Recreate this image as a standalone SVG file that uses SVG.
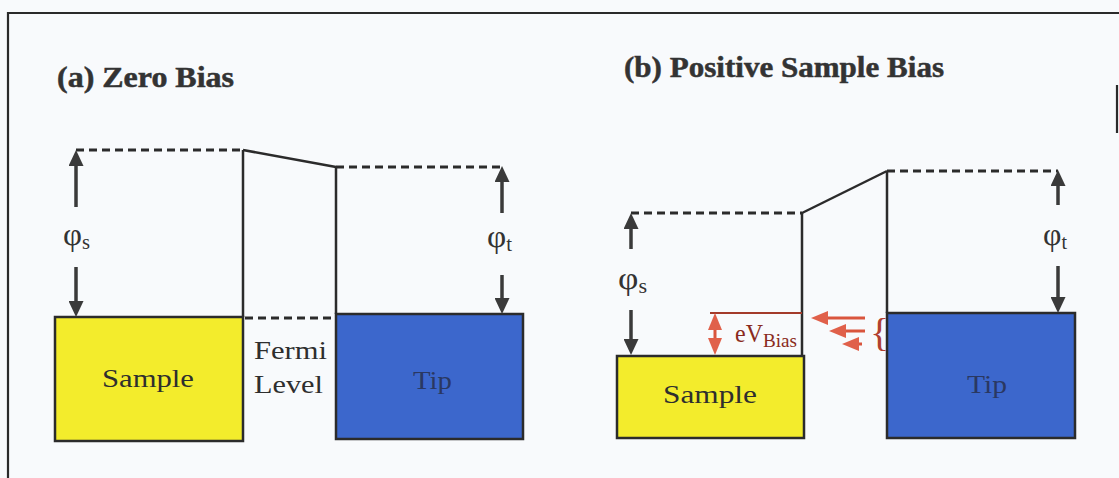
<svg xmlns="http://www.w3.org/2000/svg" width="1119" height="478" viewBox="0 0 1119 478">
<style>
.bg{fill:#f8fafc}
.frame{stroke:#2a2a2a;stroke-width:2.2;fill:none}
.wall{stroke:#2b2b2b;stroke-width:2.5;fill:none}
.dash{stroke:#2b2b2b;stroke-width:3;fill:none;stroke-dasharray:8 5}
.arr{stroke:#3a3a3a;stroke-width:3.5;fill:none}
.rarr{stroke:#d9553d;stroke-width:3;fill:none}
.rline{stroke:#a33a2a;stroke-width:2;fill:none}
.sample{fill:#f3ec2c;stroke:#2b2b2b;stroke-width:2.5}
.tip{fill:#3c67cc;stroke:#2b2b2b;stroke-width:2.5}
.serif{font-family:"Liberation Serif","Times New Roman",serif}
.title{font-weight:bold;font-size:29px;fill:#333;stroke:#333;stroke-width:0.5}
.lbl{font-size:25px;fill:#2e2e2e}
.tiplbl{font-size:25px;fill:#2a3862}
.phi{font-size:32px;fill:#333}
.sub{font-size:20px}
.red{font-size:26px;fill:#8a2a20}
.redsub{font-size:19px;fill:#8a2a20}
.brace{font-size:40px;fill:#b04030}
</style>
<defs>
<marker id="ah" markerUnits="userSpaceOnUse" markerWidth="16" markerHeight="15" refX="0" refY="7.5" orient="auto">
<path d="M0,0 L16,7.5 L0,15 z" fill="#3a3a3a"/>
</marker>
<marker id="rh" markerUnits="userSpaceOnUse" markerWidth="17" markerHeight="14" refX="0" refY="7" orient="auto">
<path d="M0,0 L17,7 L0,14 z" fill="#e0604a"/>
</marker>
</defs>
<rect class="bg" x="0" y="0" width="1119" height="478"/>
<g id="frame">
<path class="frame" d="M8,478 V13 H1119"/>
<path class="frame" d="M1117,85 V133"/>
</g>
<g id="panel-a">
<text class="serif title" x="57" y="87" textLength="177" lengthAdjust="spacingAndGlyphs">(a) Zero Bias</text>
<g id="sample-a">
<rect class="sample" x="55" y="317" width="188" height="124"/>
<text class="serif lbl" x="102" y="387" textLength="92" lengthAdjust="spacingAndGlyphs">Sample</text>
</g>
<g id="tip-a">
<rect class="tip" x="336" y="314" width="187" height="125"/>
<text class="serif tiplbl" x="413" y="389" textLength="39" lengthAdjust="spacingAndGlyphs">Tip</text>
</g>
<g id="fermi-label">
<text class="serif lbl" x="254" y="359" textLength="73" lengthAdjust="spacingAndGlyphs">Fermi</text>
<text class="serif lbl" x="254" y="393" textLength="69" lengthAdjust="spacingAndGlyphs">Level</text>
</g>
<text class="serif phi" x="63" y="245" textLength="27" lengthAdjust="spacingAndGlyphs">φ<tspan class="sub" dy="4">s</tspan></text>
<text class="serif phi" x="487" y="247" textLength="25" lengthAdjust="spacingAndGlyphs">φ<tspan class="sub" dy="4">t</tspan></text>
</g>
<g id="panel-b">
<text class="serif title" x="624" y="77" textLength="320" lengthAdjust="spacingAndGlyphs">(b) Positive Sample Bias</text>
<g id="sample-b">
<rect class="sample" x="617" y="356" width="187" height="82"/>
<text class="serif lbl" x="663" y="403" textLength="94" lengthAdjust="spacingAndGlyphs">Sample</text>
</g>
<g id="tip-b">
<rect class="tip" x="887" y="313" width="188" height="125"/>
<text class="serif tiplbl" x="967" y="393" textLength="40" lengthAdjust="spacingAndGlyphs">Tip</text>
</g>
<text class="serif phi" x="618" y="289" textLength="29" lengthAdjust="spacingAndGlyphs">φ<tspan class="sub" dy="4">s</tspan></text>
<text class="serif phi" x="1043" y="245" textLength="24" lengthAdjust="spacingAndGlyphs">φ<tspan class="sub" dy="4">t</tspan></text>
<text class="serif red" x="735" y="342" textLength="28" lengthAdjust="spacingAndGlyphs">eV</text>
<text class="serif redsub" x="763" y="347" textLength="34" lengthAdjust="spacingAndGlyphs">Bias</text>
<text class="serif brace" x="870" y="346">{</text>
</g>
<g id="connectors">
<path class="dash" d="M76,150 H243"/>
<path class="wall" d="M243,150 L336,167"/>
<path class="dash" d="M336,167 H502"/>
<path class="wall" d="M243,150 V317"/>
<path class="wall" d="M336,167 V314"/>
<path class="dash" d="M245,318 H336"/>
<path class="dash" d="M631,213 H802"/>
<path class="wall" d="M802,213 L887,171"/>
<path class="dash" d="M887,171 H1058"/>
<path class="wall" d="M802,213 V356"/>
<path class="wall" d="M887,171 V313"/>
<path class="arr" d="M76,207 V166" marker-end="url(#ah)"/>
<path class="arr" d="M76,267 V301" marker-end="url(#ah)"/>
<path class="arr" d="M502,213 V182" marker-end="url(#ah)"/>
<path class="arr" d="M502,275 V298" marker-end="url(#ah)"/>
<path class="arr" d="M631,249 V229" marker-end="url(#ah)"/>
<path class="arr" d="M631,310 V339" marker-end="url(#ah)"/>
<path class="arr" d="M1058,205 V186" marker-end="url(#ah)"/>
<path class="arr" d="M1058,266 V297" marker-end="url(#ah)"/>
<path class="rline" d="M710,313 H802"/>
<path class="rarr" d="M715,334 V330" marker-end="url(#rh)"/>
<path class="rarr" d="M715,334 V338" marker-end="url(#rh)"/>
<path class="rarr" d="M865,318 H828" marker-end="url(#rh)"/>
<path class="rarr" d="M865,331 H846" marker-end="url(#rh)"/>
<path class="rarr" d="M862,344 H859" marker-end="url(#rh)"/>
</g>
</svg>
